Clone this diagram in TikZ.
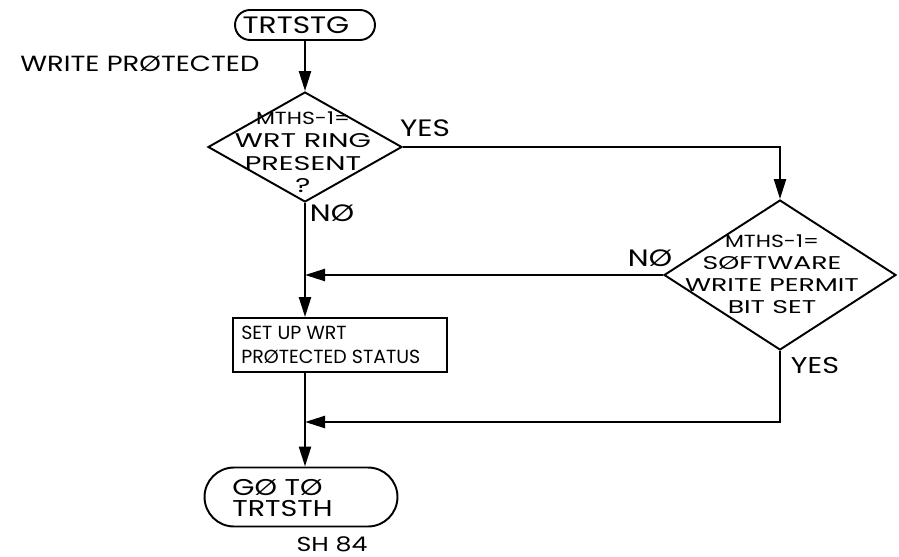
\documentclass[tikz,border=0pt]{standalone}
\usepackage{fontspec}
\setmainfont{Poppins}
\newfontfamily\widefont{Poppins}[FakeStretch=1.25]
\newfontfamily\widerfont{Poppins}[FakeStretch=1.45]
\usetikzlibrary{arrows.meta, positioning, shapes.geometric}

\tikzset{
  flow/.style={line width=1.3pt},
  arr/.style={flow, -{Triangle[length=0.4cm,width=0.24cm]}},
  termbox/.style={draw, line width=1.1pt, inner sep=0pt},
  procbox/.style={draw, line width=1.1pt, inner sep=0pt},
  decision/.style={draw, diamond, line width=1.1pt, inner sep=0pt},
  txt/.style={inner sep=0pt, align=center},
  branch/.style={txt, font=\widefont\fontsize{13.5}{15}\selectfont},
}
\newcommand{\smallcap}[1]{{\widefont\fontsize{10}{11}\selectfont #1}}

\begin{document}
\begin{tikzpicture}[x=0.02cm, y=-0.02cm]
  \useasboundingbox (0,0) rectangle (899,557);

  % Start terminal
  \node[termbox, rounded corners=0.3cm, minimum width=2.8cm, minimum height=0.6cm] (start) at (305,25) {};
  \node[txt, font=\widefont\fontsize{13.5}{15}\selectfont] (starttxt) at (296,25) {TRTSTG};
  \node[txt, font=\widefont\fontsize{12.5}{15}\selectfont, anchor=west] (title) at (20,64) {WRITE PRØTECTED};

  % First decision
  \node[decision, minimum width=3.88cm, minimum height=2.2cm] (ring) at (305,147) {};
  \node[txt, font=\widerfont\fontsize{11.3}{12.3}\selectfont] (ringtxt) at (303,152) {\smallcap{MTHS-1=}\\[1pt]WRT RING\\[1pt]PRESENT\\?};

  % Second decision
  \node[decision, minimum width=4.64cm, minimum height=3.0cm] (permit) at (780,275) {};
  \node[txt, font=\widerfont\fontsize{10.5}{12.5}\selectfont] (permittxt) at (772,274) {\smallcap{MTHS-1=}\\SØFTWARE\\WRITE PERMIT\\BIT SET};

  % Status box
  \node[procbox, minimum width=4.28cm, minimum height=1.08cm] (status) at (340,345) {};
  \node[txt, align=left, anchor=west, font=\fontsize{10.8}{13.6}\selectfont] (statustxt) at (241,345) {SET UP WRT\\PRØTECTED STATUS};

  % End terminal
  \node[termbox, rounded corners=0.59cm, minimum width=3.86cm, minimum height=1.18cm] (finish) at (301,497) {};
  \node[txt, align=left, anchor=west, font=\widefont\fontsize{13}{12}\selectfont] (finishtxt) at (232,498) {GØ TØ\\TRTSTH};
  \node[txt, font=\widefont\fontsize{11.5}{13}\selectfont] (sheet) at (332,544) {SH 84};

  % Junction points on the main line
  \coordinate (join1) at (ring.south |- permit.west);
  \coordinate (yesturn) at (permit.south |- 0,422);
  \coordinate (join2) at (ring.south |- yesturn);

  % Connectors
  \draw[arr] (start) -- (ring.north);
  \draw[arr] (ring.south) -- (ring.south |- status.north);
  \draw[arr] (status.south -| ring.south) -- (ring.south |- finish.north);
  \draw[arr] (ring.east) -| (permit.north);
  \draw[arr] (permit.west) -- (join1);
  \draw[arr] (permit.south) -- (yesturn) -- (join2);

  % Branch labels
  \node[branch] (yes1) at (425,128) {YES};
  \node[branch] (no1) at (332,213) {NØ};
  \node[branch] (no2) at (650,258) {NØ};
  \node[branch, font=\widefont\fontsize{13}{15}\selectfont] (yes2) at (815,366) {YES};

\end{tikzpicture}
\end{document}
